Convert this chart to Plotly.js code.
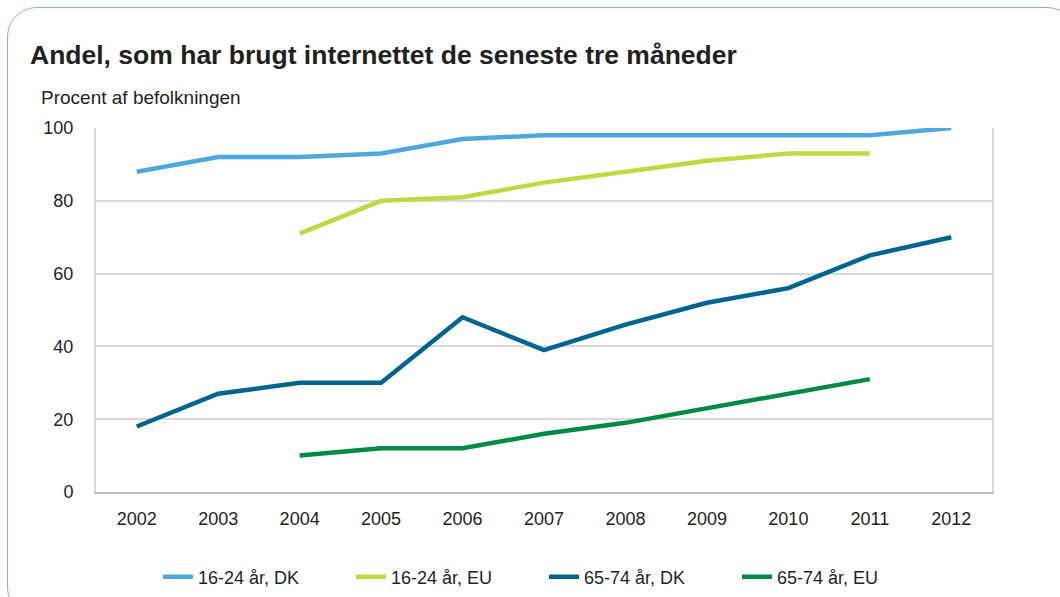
<!DOCTYPE html>
<html>
<head>
<meta charset="utf-8">
<script src="https://cdn.plot.ly/plotly-3.0.1.min.js"></script>
<style>
  html, body { margin: 0; padding: 0; width: 1060px; height: 597px; overflow: hidden; background: #ffffff; }
  #frame { position: absolute; left: 7px; top: 7px; width: 1070px; height: 610px; border: 1.5px solid #7cc48f; border-radius: 30px; box-sizing: border-box; pointer-events: none; }
  #chart { position: absolute; left: 0; top: 0; width: 1060px; height: 597px; }
</style>
</head>
<body>
<div id="chart"></div>
<div id="frame"></div>
<script>
const years = ['2002','2003','2004','2005','2006','2007','2008','2009','2010','2011','2012'];
const years_eu = ['2004','2005','2006','2007','2008','2009','2010','2011'];
const dk_16_24 = [88, 92, 92, 93, 97, 98, 98, 98, 98, 98, 100];
const eu_16_24 = [71, 80, 81, 85, 88, 91, 93, 93];
const dk_65_74 = [18, 27, 30, 30, 48, 39, 46, 52, 56, 65, 70];
const eu_65_74 = [10, 12, 12, 16, 19, 23, 27, 31];
const seriesNames = ['16-24 år, DK', '16-24 år, EU', '65-74 år, DK', '65-74 år, EU'];
const yTicks = [0, 20, 40, 60, 80, 100];

const colors = ['#4ea8de', '#c0d842', '#00648f', '#008a45'];

const traces = [
  {x: years, y: dk_16_24, name: seriesNames[0]},
  {x: years_eu, y: eu_16_24, name: seriesNames[1]},
  {x: years, y: dk_65_74, name: seriesNames[2]},
  {x: years_eu, y: eu_65_74, name: seriesNames[3]}
].map((t, i) => Object.assign(t, {
  type: 'scatter', mode: 'lines',
  line: {color: colors[i], width: 4.5},
  hoverinfo: 'x+y'
}));

const font = 'Liberation Sans, Arial, sans-serif';

const layout = {
  width: 1060, height: 597,
  margin: {l: 96, r: 68, t: 128, b: 105},
  paper_bgcolor: 'rgba(0,0,0,0)',
  plot_bgcolor: '#ffffff',
  font: {family: font, size: 18, color: '#231f20'},
  title: {
    text: '<b>Andel, som har brugt internettet de seneste tre måneder</b>',
    font: {family: font, size: 26.5, color: '#231f20'},
    x: 30/1060, xanchor: 'left', xref: 'container',
    y: 1 - 55/597, yanchor: 'middle', yref: 'container'
  },
  annotations: [{
    text: 'Procent af befolkningen',
    xref: 'paper', yref: 'paper',
    x: -57/896, y: 1 + 31/364,
    xanchor: 'left', yanchor: 'middle',
    showarrow: false,
    font: {family: font, size: 19, color: '#231f20'}
  }],
  xaxis: {
    type: 'category',
    categoryorder: 'array', categoryarray: years,
    range: [-0.5, 10.5],
    showgrid: false,
    showline: true, linecolor: '#bcbcbc', linewidth: 2,
    ticks: 'outside', ticklen: 9, tickcolor: 'rgba(0,0,0,0)',
    tickfont: {family: font, size: 18, color: '#231f20'},
    fixedrange: true
  },
  yaxis: {
    range: [0, 100],
    tickvals: yTicks,
    showgrid: true, gridcolor: '#d9d9d9', gridwidth: 2,
    showline: true, mirror: true, linecolor: '#d9d9d9', linewidth: 2,
    zeroline: false,
    ticks: 'outside', ticklen: 17, tickcolor: 'rgba(0,0,0,0)',
    tickfont: {family: font, size: 18, color: '#231f20'},
    fixedrange: true
  },
  showlegend: true,
  legend: {
    orientation: 'h',
    x: 0.5, xanchor: 'center', xref: 'paper',
    y: 1 - 577/597, yanchor: 'middle', yref: 'container',
    entrywidth: 148, entrywidthmode: 'pixels',
    font: {family: font, size: 18, color: '#231f20'},
    traceorder: 'normal'
  }
};

Plotly.newPlot('chart', traces, layout, {displayModeBar: false, staticPlot: true});
</script>
</body>
</html>
